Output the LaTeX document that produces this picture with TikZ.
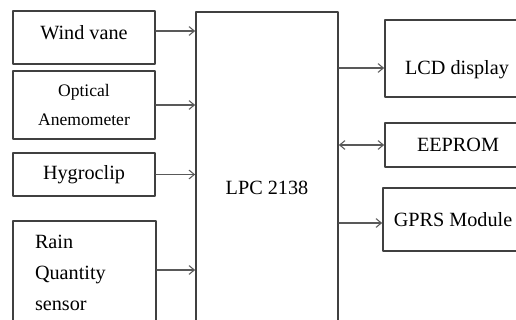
\documentclass[tikz,border=0pt]{standalone}
\usepackage{fontspec}
\setmainfont{Liberation Serif}
\usepackage{tikz}
\usetikzlibrary{arrows.meta}
\tikzset{
  every picture/.style={line join=round, line cap=round, >=Stealth},
  blk/.style={draw=black!75, line width=1pt, inner sep=0pt, font=\fontsize{11.5}{14}\selectfont},
  link/.style={draw=black!65, line width=0.6pt, -{Straight Barb[length=3pt,width=5pt]}},
}

\begin{document}
\begin{tikzpicture}
\clip (0,0) rectangle (10.32,-6.4);
% sensors
\node[blk, minimum width=2.84cm, minimum height=1.06cm, text height=0.27cm, text depth=0.18cm] (wind) at (1.68,-0.75) {Wind vane};
\node[blk, minimum width=2.84cm, minimum height=1.36cm, align=center, font=\fontsize{10}{16.4}\selectfont] (optic) at (1.68,-2.1) {Optical\\Anemometer};
\node[blk, minimum width=2.84cm, minimum height=0.86cm] (hygro) at (1.68,-3.49) {Hygroclip};
\node[blk, minimum height=2.08cm, text width=1.98cm, inner xsep=0.44cm, align=left, font=\fontsize{11.5}{17.6}\selectfont] (rain) at (1.69,-5.46) {Rain\\Quantity\\sensor};
% controller
\node[blk, minimum width=2.84cm, minimum height=6.26cm, text height=1.05cm, text depth=0cm] (lpc) at (5.34,-3.37) {LPC 2138};
% outputs
\node[blk, minimum width=2.88cm, minimum height=1.54cm, text height=0.65cm, text depth=0cm] (lcd) at (9.14,-1.17) {LCD display};
\node[blk, minimum width=2.92cm, minimum height=0.88cm] (eeprom) at (9.16,-2.9) {EEPROM};
\node[blk, minimum width=2.8cm, minimum height=1.26cm] (gprs) at (9.06,-4.39) {GPRS Module};
\draw[link] ([yshift=0.13cm]wind.east) -- ([yshift=0.13cm]wind.east -| lpc.west);
\draw[link] (optic.east) -- (optic.east -| lpc.west);
\draw[link] (hygro.east) -- (hygro.east -| lpc.west);
\draw[link] ([yshift=0.06cm]rain.east) -- ([yshift=0.06cm]rain.east -| lpc.west);
\draw[link] ([yshift=-0.19cm]lcd.west -| lpc.east) -- ([yshift=-0.19cm]lcd.west);
\draw[link, {Straight Barb[length=3pt,width=5pt]}-{Straight Barb[length=3pt,width=5pt]}] (eeprom.west -| lpc.east) -- (eeprom.west);
\draw[link] ([yshift=-0.07cm]gprs.west -| lpc.east) -- ([yshift=-0.07cm]gprs.west);
\end{tikzpicture}
\end{document}
